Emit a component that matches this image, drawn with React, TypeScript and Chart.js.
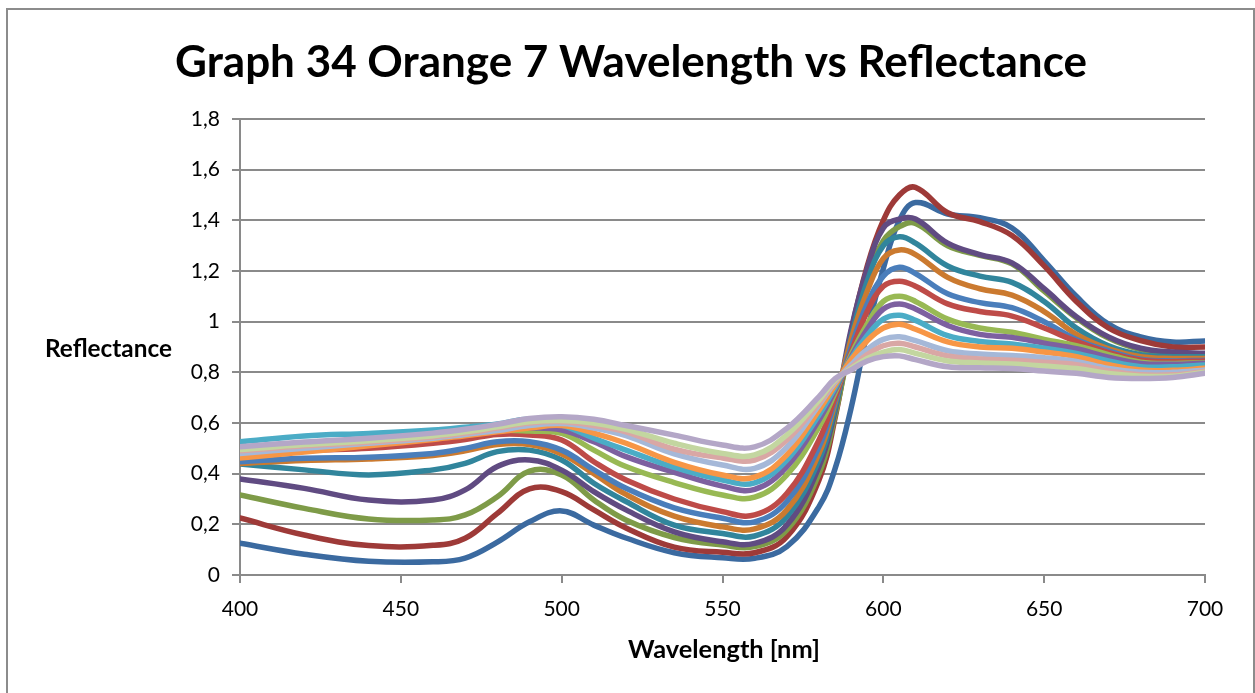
import React, { useEffect, useRef } from 'react';
import { Chart, registerables } from 'chart.js';

Chart.register(...registerables);

const chartTitle = 'Graph 34 Orange 7 Wavelength vs Reflectance';
const xAxisTitle = 'Wavelength [nm]';
const yAxisTitle = 'Reflectance';

const wavelengths = [400, 420, 440, 460, 470, 480, 490, 500, 510, 520, 535, 550, 560, 570, 580, 585, 590, 595, 600, 605, 610, 620, 630, 640, 650, 660, 670, 680, 690, 700];

const s1 = [0.125, 0.082, 0.054, 0.052, 0.067, 0.13, 0.21, 0.253, 0.197, 0.146, 0.088, 0.068, 0.066, 0.112, 0.27, 0.42, 0.66, 0.96, 1.21, 1.40, 1.47, 1.425, 1.41, 1.37, 1.24, 1.10, 0.99, 0.94, 0.92, 0.924];
const s2 = [0.225, 0.158, 0.116, 0.117, 0.145, 0.243, 0.34, 0.329, 0.257, 0.186, 0.11, 0.09, 0.088, 0.151, 0.375, 0.62, 0.96, 1.22, 1.40, 1.50, 1.53, 1.43, 1.395, 1.34, 1.22, 1.08, 0.975, 0.925, 0.90, 0.90];
const s3 = [0.316, 0.263, 0.221, 0.217, 0.237, 0.309, 0.41, 0.395, 0.296, 0.217, 0.148, 0.118, 0.112, 0.178, 0.40, 0.63, 0.93, 1.17, 1.32, 1.375, 1.388, 1.30, 1.262, 1.228, 1.12, 1.015, 0.935, 0.89, 0.875, 0.87];
const s4 = [0.379, 0.342, 0.296, 0.296, 0.336, 0.428, 0.454, 0.414, 0.329, 0.257, 0.17, 0.131, 0.125, 0.197, 0.428, 0.65, 0.97, 1.21, 1.37, 1.405, 1.405, 1.31, 1.265, 1.232, 1.13, 1.02, 0.94, 0.895, 0.88, 0.875];
const s5 = [0.438, 0.415, 0.395, 0.415, 0.441, 0.487, 0.493, 0.454, 0.362, 0.29, 0.197, 0.164, 0.154, 0.23, 0.454, 0.66, 0.94, 1.16, 1.30, 1.335, 1.31, 1.22, 1.18, 1.155, 1.08, 0.975, 0.905, 0.87, 0.862, 0.862];
const s6 = [0.44, 0.452, 0.458, 0.472, 0.49, 0.515, 0.515, 0.478, 0.40, 0.318, 0.232, 0.19, 0.182, 0.257, 0.48, 0.68, 0.93, 1.12, 1.25, 1.283, 1.265, 1.175, 1.13, 1.105, 1.04, 0.95, 0.893, 0.862, 0.855, 0.855];
const s7 = [0.447, 0.461, 0.465, 0.48, 0.50, 0.526, 0.526, 0.493, 0.415, 0.342, 0.265, 0.224, 0.21, 0.29, 0.506, 0.69, 0.90, 1.07, 1.18, 1.215, 1.19, 1.11, 1.075, 1.055, 1.0, 0.93, 0.885, 0.852, 0.845, 0.848];
const s8 = [0.47, 0.49, 0.50, 0.52, 0.535, 0.555, 0.553, 0.533, 0.447, 0.375, 0.30, 0.25, 0.237, 0.322, 0.533, 0.70, 0.88, 1.04, 1.14, 1.16, 1.14, 1.07, 1.04, 1.022, 0.975, 0.922, 0.878, 0.848, 0.842, 0.845];
const s9 = [0.48, 0.50, 0.52, 0.54, 0.555, 0.57, 0.568, 0.559, 0.493, 0.428, 0.365, 0.316, 0.307, 0.395, 0.585, 0.72, 0.87, 0.99, 1.08, 1.10, 1.08, 1.01, 0.975, 0.958, 0.93, 0.905, 0.87, 0.84, 0.835, 0.838];
const s10 = [0.48, 0.50, 0.52, 0.545, 0.56, 0.575, 0.58, 0.572, 0.526, 0.467, 0.405, 0.351, 0.338, 0.428, 0.612, 0.73, 0.86, 0.97, 1.05, 1.07, 1.05, 0.985, 0.95, 0.938, 0.915, 0.893, 0.86, 0.835, 0.832, 0.836];
const s11 = [0.526, 0.549, 0.559, 0.572, 0.583, 0.596, 0.615, 0.592, 0.54, 0.493, 0.425, 0.375, 0.364, 0.454, 0.632, 0.74, 0.855, 0.945, 1.01, 1.025, 1.005, 0.945, 0.922, 0.912, 0.895, 0.875, 0.845, 0.822, 0.822, 0.829];
const s12 = [0.462, 0.485, 0.51, 0.535, 0.55, 0.565, 0.58, 0.59, 0.56, 0.52, 0.445, 0.395, 0.386, 0.474, 0.651, 0.75, 0.85, 0.925, 0.975, 0.99, 0.97, 0.92, 0.90, 0.895, 0.88, 0.862, 0.83, 0.809, 0.808, 0.816];
const s13 = [0.48, 0.50, 0.52, 0.54, 0.555, 0.57, 0.59, 0.598, 0.58, 0.55, 0.478, 0.434, 0.421, 0.504, 0.671, 0.76, 0.83, 0.89, 0.93, 0.94, 0.925, 0.885, 0.872, 0.866, 0.858, 0.843, 0.815, 0.80, 0.80, 0.809];
const s14 = [0.49, 0.51, 0.525, 0.545, 0.56, 0.58, 0.60, 0.605, 0.59, 0.565, 0.497, 0.462, 0.454, 0.533, 0.68, 0.765, 0.82, 0.87, 0.905, 0.915, 0.90, 0.865, 0.853, 0.848, 0.84, 0.83, 0.805, 0.79, 0.79, 0.803];
const s15 = [0.495, 0.515, 0.53, 0.55, 0.565, 0.585, 0.605, 0.61, 0.60, 0.575, 0.52, 0.48, 0.474, 0.553, 0.69, 0.77, 0.815, 0.855, 0.88, 0.89, 0.875, 0.845, 0.837, 0.833, 0.825, 0.815, 0.795, 0.785, 0.785, 0.80];
const s16 = [0.506, 0.525, 0.54, 0.56, 0.575, 0.595, 0.618, 0.625, 0.615, 0.59, 0.552, 0.513, 0.506, 0.579, 0.704, 0.775, 0.81, 0.845, 0.862, 0.865, 0.85, 0.822, 0.818, 0.815, 0.805, 0.796, 0.78, 0.776, 0.78, 0.796];

const seriesNames = ['Series1', 'Series2', 'Series3', 'Series4', 'Series5', 'Series6', 'Series7', 'Series8', 'Series9', 'Series10', 'Series11', 'Series12', 'Series13', 'Series14', 'Series15', 'Series16'];
const seriesValues = [s1, s2, s3, s4, s5, s6, s7, s8, s9, s10, s11, s12, s13, s14, s15, s16];
const seriesColors = ['#3B6AA0', '#9E3A38', '#7E9B48', '#604B82', '#31859C', '#CB7A2F', '#4A7EBB', '#BE4B48', '#98B954', '#7D60A0', '#4BACC6', '#F79646', '#A5B8D8', '#D9A7A5', '#C3D6A0', '#B4A7C7'];

const xTickValues = [400, 450, 500, 550, 600, 650, 700];
const xTickLabels = ['400', '450', '500', '550', '600', '650', '700'];
const yTickValues = [0, 0.2, 0.4, 0.6, 0.8, 1.0, 1.2, 1.4, 1.6, 1.8];
const yTickLabels = ['0', '0,2', '0,4', '0,6', '0,8', '1', '1,2', '1,4', '1,6', '1,8'];

const FONT = 'Lato, "Liberation Sans", sans-serif';
const GRID = '#8A8A8A';

function fitSize(ctx: CanvasRenderingContext2D, text: string, weight: string, target: number) {
  ctx.font = `${weight} 100px ${FONT}`;
  const w = ctx.measureText(text).width;
  return (100 * target) / w;
}

const decorPlugin = {
  id: 'decor',
  afterDraw(chart: any) {
    const ctx: CanvasRenderingContext2D = chart.ctx;
    ctx.save();
    ctx.strokeStyle = '#8C8C8C';
    ctx.lineWidth = 2;
    ctx.strokeRect(7, 9, 1247, 700);
    ctx.fillStyle = '#000';
    ctx.textBaseline = 'alphabetic';
    ctx.textAlign = 'center';
    let sz = fitSize(ctx, chartTitle, 'bold', 912);
    ctx.font = `bold ${sz}px ${FONT}`;
    ctx.fillText(chartTitle, 631, 77);
    sz = fitSize(ctx, yAxisTitle, 'bold', 127);
    ctx.font = `bold ${sz}px ${FONT}`;
    ctx.fillText(yAxisTitle, 108.5, 357);
    sz = fitSize(ctx, xAxisTitle, 'bold', 192);
    ctx.font = `bold ${sz}px ${FONT}`;
    ctx.fillText(xAxisTitle, 724, 658);
    ctx.restore();
  },
};

export default function App() {
  const ref = useRef<HTMLCanvasElement | null>(null);
  useEffect(() => {
    if (!ref.current) return;
    const datasets = seriesValues.map((vals, i) => ({
      label: seriesNames[i],
      data: wavelengths.map((x, j) => ({ x, y: vals[j] })),
      borderColor: seriesColors[i],
      backgroundColor: seriesColors[i],
      borderWidth: 5.5,
      pointRadius: 0,
      fill: false,
      order: -i,
      tension: 0.4,
    }));
    const chart = new Chart(ref.current, {
      type: 'line',
      data: { datasets },
      plugins: [decorPlugin],
      options: {
        responsive: false,
        animation: false,
        events: [],
        layout: { padding: { left: 0, right: 50, top: 119, bottom: 0 } },
        plugins: { legend: { display: false }, title: { display: false }, tooltip: { enabled: false } },
        elements: { line: { borderCapStyle: 'round', borderJoinStyle: 'round' } },
        scales: {
          x: {
            type: 'linear',
            min: 400,
            max: 700,
            afterBuildTicks: (s: any) => {
              s.ticks = xTickValues.map((v) => ({ value: v }));
            },
            afterFit: (s: any) => {
              s.height = 118;
            },
            ticks: {
              autoSkip: false,
              maxRotation: 0,
              padding: 14,
              color: '#000',
              font: { family: FONT, size: 21 },
              callback: (_v: any, i: number) => xTickLabels[i],
            },
            grid: { drawOnChartArea: false, drawTicks: true, tickLength: 8, color: GRID, lineWidth: 2 },
            border: { display: true, color: GRID, width: 2 },
          },
          y: {
            type: 'linear',
            min: 0,
            max: 1.8,
            afterBuildTicks: (s: any) => {
              s.ticks = yTickValues.map((v) => ({ value: v }));
            },
            afterFit: (s: any) => {
              s.width = 240;
            },
            ticks: {
              autoSkip: false,
              padding: 12,
              color: '#000',
              font: { family: FONT, size: 21 },
              callback: (_v: any, i: number) => yTickLabels[i],
            },
            grid: { drawOnChartArea: true, drawTicks: true, tickLength: 8, color: GRID, lineWidth: 2 },
            border: { display: true, color: GRID, width: 2 },
          },
        },
      },
    });
    return () => chart.destroy();
  }, []);
  return (
    <div style={{ position: 'fixed', left: 0, top: 0, width: 1255, height: 693, background: '#fff' }}>
      <canvas ref={ref} width={1255} height={693} style={{ display: 'block' }} />
    </div>
  );
}
